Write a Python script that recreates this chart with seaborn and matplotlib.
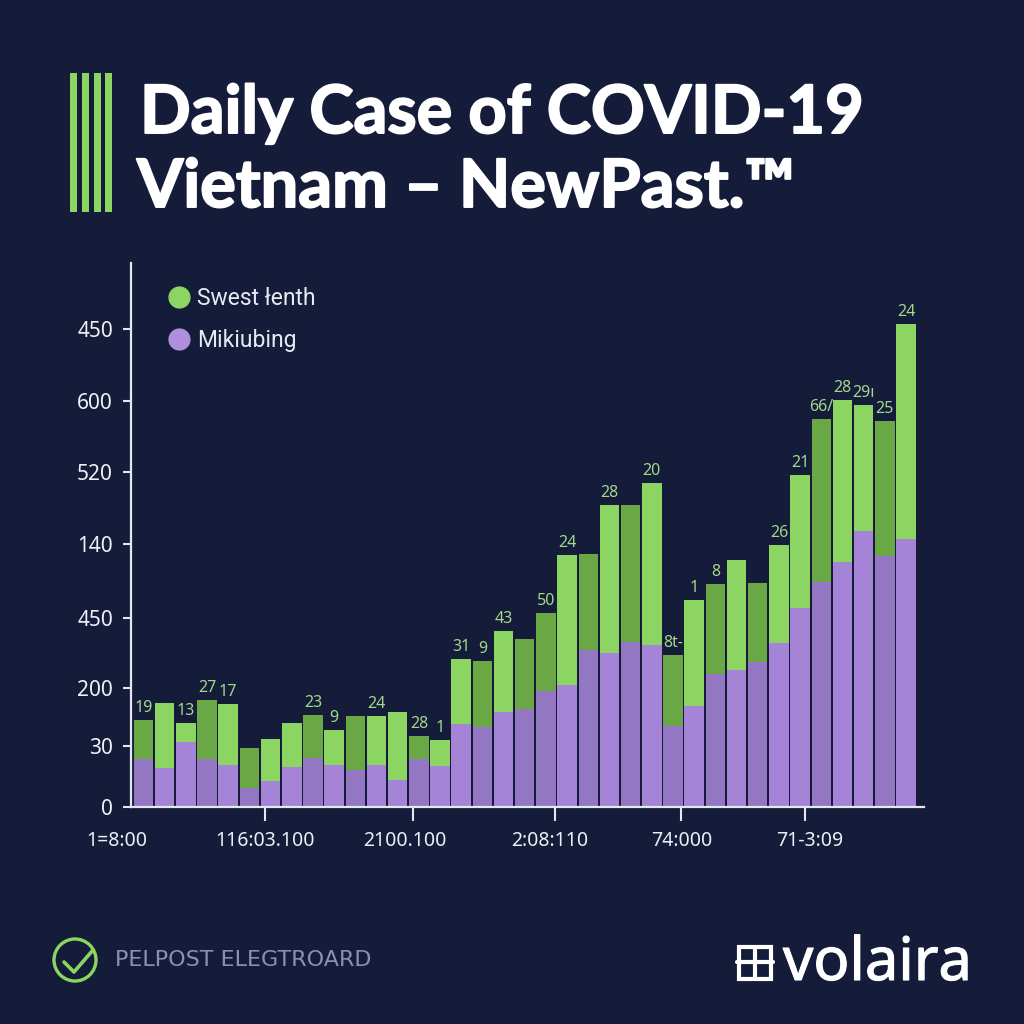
import matplotlib
matplotlib.use("Agg")
import matplotlib.pyplot as plt
import matplotlib.patheffects as pe
from matplotlib.lines import Line2D
from matplotlib.patches import Circle, Rectangle
import pandas as pd
import seaborn as sns

# bar values (axis runs in the same units as the bar heights)
days = list(range(1, 38))
total_cases = [87, 104, 84, 107, 103, 59, 68, 84, 92, 77, 91, 91, 95, 71, 67, 148, 146, 176, 168,
               194, 252, 253, 302, 302, 324, 152, 207, 223, 247, 224, 262, 332, 388, 407, 402, 386, 483]
purple_cases = [48, 39, 65, 48, 42, 19, 26, 40, 49, 42, 37, 42, 27, 48, 41, 83, 80, 95, 98,
                116, 122, 157, 154, 165, 162, 81, 101, 133, 137, 145, 164, 199, 225, 245, 276, 251, 268]
shades = ["dark", "light", "light", "dark", "light", "dark", "light", "light", "dark", "light",
          "dark", "light", "light", "dark", "light", "light", "dark", "light", "dark", "dark",
          "light", "dark", "light", "dark", "light", "dark", "light", "dark", "light", "dark",
          "light", "light", "dark", "light", "light", "dark", "light"]
value_labels = ["19", "", "13", "27", "17", "", "", "", "23", "9", "", "24", "", "28", "1", "31", "9", "43", "",
                "50", "24", "", "28", "", "20", "8t-", "1", "8", "", "", "26", "21", "66/", "28", "29ı", "25", "24"]

y_ticks = [0, 61, 119, 189, 263, 335, 406, 478]
y_tick_labels = ["0", "30", "200", "450", "140", "520", "600", "450"]
x_ticks = [5.74, 12.72, 19.43, 25.38, 31.23]
x_tick_labels = ["1=8:00", "116:03.100", "2100.100", "2:08:110", "74:000", "71-3:09"]
x_label_px = [117, 265, 405, 550, 682, 810]

BG = "#141c3a"
GREEN = "#8cd562"
GREEN_DARK = "#6aa845"
PURPLE = "#a584d8"
PURPLE_DARK = "#9377c3"
AXIS = "#e4e6f2"
LABEL = "#a3d88a"
FONT = "Noto Sans"

df = pd.DataFrame({"day": days, "total": total_cases, "purple": purple_cases, "shade": shades})

sns.set_theme(style="dark")
plt.rcParams["font.family"] = [FONT, "DejaVu Sans"]

fig = plt.figure(figsize=(10.24, 10.24), dpi=100, facecolor=BG)

# full page axes in pixel coordinates for the title, footer and x labels
page = fig.add_axes([0, 0, 1, 1], facecolor=BG)
page.set_xlim(0, 1024)
page.set_ylim(1024, 0)
page.axis("off")

ax = fig.add_axes([131 / 1024, 217 / 1024, 793 / 1024, 544 / 1024])
ax.patch.set_alpha(0)

sns.barplot(data=df, x="day", y="total", hue="shade", hue_order=["light", "dark"], dodge=False,
            palette={"light": GREEN, "dark": GREEN_DARK}, width=0.92, saturation=1, legend=False,
            linewidth=0, ax=ax)
sns.barplot(data=df, x="day", y="purple", hue="shade", hue_order=["light", "dark"], dodge=False,
            palette={"light": PURPLE, "dark": PURPLE_DARK}, width=0.92, saturation=1, legend=False,
            linewidth=0, ax=ax)

for i, lab in enumerate(value_labels):
    if lab:
        ax.annotate(lab, (i, total_cases[i]), xytext=(0, 3), textcoords="offset points",
                    ha="center", va="bottom", color=LABEL, fontsize=11.5)

ax.set_xlim(-0.59, 36.85)
ax.set_ylim(0, 544)
ax.set_xticks(x_ticks, [""] * len(x_ticks))
ax.set_yticks(y_ticks, y_tick_labels)
ax.set_xlabel("")
ax.set_ylabel("")
ax.grid(False)
ax.tick_params(axis="x", bottom=True, length=10, width=1.5, color=AXIS)
ax.tick_params(axis="y", left=True, length=6, width=1.5, color=AXIS, labelcolor="#f0f1f7",
               labelsize=15, pad=7)
ax.spines["top"].set_visible(False)
ax.spines["right"].set_visible(False)
for side in ["left", "bottom"]:
    ax.spines[side].set_color(AXIS)
    ax.spines[side].set_linewidth(1.6)

handles = [Line2D([], [], ls="", marker="o", ms=15, color=GREEN),
           Line2D([], [], ls="", marker="o", ms=15, color="#ae8fdc")]
leg = ax.legend(handles, ["Swest łenth", "Mikiubing"], loc="upper left", bbox_to_anchor=(0.032, 0.955),
                frameon=False, prop={"family": "Roboto", "size": 16.5},
                labelspacing=0.82, handletextpad=-0.22, borderpad=0, borderaxespad=0)
for t in leg.get_texts():
    t.set_color("#e8eaf3")

for lab, px in zip(x_tick_labels, x_label_px):
    page.text(px, 841, lab, ha="center", va="center", color="#eceef5", fontsize=14)

# title block
bold = [pe.withStroke(linewidth=1.4, foreground="white")]
for left in [70, 82, 94, 105]:
    page.add_patch(Rectangle((left, 73), 7, 139, color=GREEN, lw=0))
page.text(140, 133, "Daily Case of COVID-19", color="white", fontsize=48, fontweight="bold",
          family="Lato", ha="left", va="baseline", path_effects=bold)
page.text(137, 207, "Vietnam – NewPast.™", color="white", fontsize=48, fontweight="bold",
          family="Lato", ha="left", va="baseline", path_effects=bold)

# footer
page.add_patch(Circle((75, 960), 21, fill=False, ec=GREEN, lw=2.4))
page.plot([64, 74, 93], [962, 972, 950], color=GREEN, lw=2.6)
page.text(115, 960, "PELPOST ELEGTROARD", color="#8a90b0", fontsize=16, family="DejaVu Sans",
          ha="left", va="center")
page.add_patch(Rectangle((739, 947), 32, 32, fill=False, ec="white", lw=3))
page.plot([737, 773], [962, 962], color="white", lw=3)
page.plot([755, 755], [947, 979], color="white", lw=3)
page.text(783, 980, "volaira", color="white", fontsize=43, family="Noto Sans", ha="left", va="baseline",
          path_effects=[pe.withStroke(linewidth=0.8, foreground="white")])

fig.savefig("out.png", dpi=100, facecolor=BG)
